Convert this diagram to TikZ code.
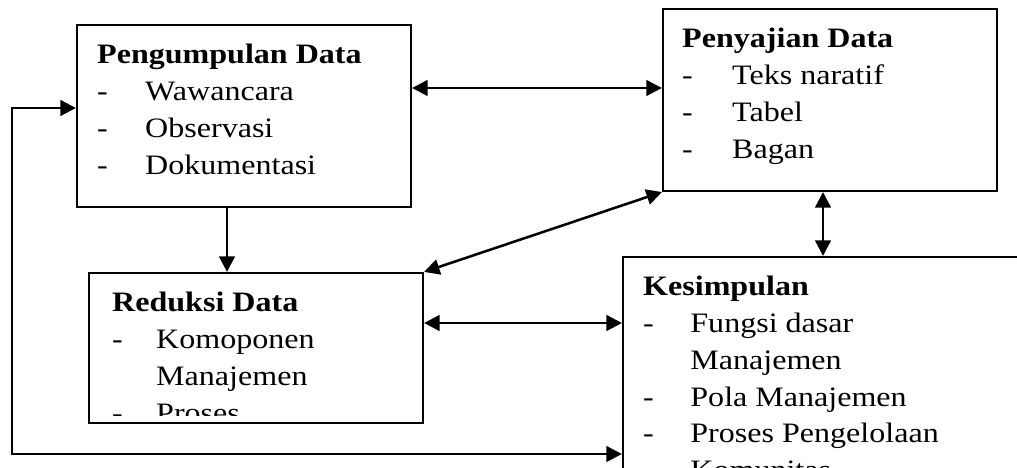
\documentclass[tikz,border=0pt]{standalone}
\usepackage{fontspec}
\setmainfont{Liberation Serif}[FakeStretch=1.14]
\usetikzlibrary{arrows.meta}

\tikzset{
  databox/.style={draw, line width=1.5pt, minimum width=8.35cm, inner sep=0pt},
  datatext/.style={anchor=base west, inner sep=0pt, font=\fontsize{20}{26.1}\selectfont},
  link/.style={line width=1.8pt, >={Triangle[length=11pt,width=11pt]}}
}

\begin{document}
\begin{tikzpicture}
			\clip (0,0) rectangle (25.425,11.7);
			
			% kotak
			\node[databox, minimum height=4.55cm] (pengumpulan) at (6.1,8.8) {};
			\node[databox, minimum height=4.55cm] (penyajian) at (20.75,9.2) {};
			\node[databox, minimum height=3.75cm] (reduksi) at (6.4,3.0) {};
			\node[databox, minimum width=10.5cm, minimum height=6.5cm] (kesimpulan) at (20.825,2.025) {};
			
			% isi kotak
			\node[datatext] (pengumpulan-isi) at ([xshift=0.525cm,yshift=-1cm]pengumpulan.north west){%
				\begin{tabular}[t]{@{}p{1.2cm}@{}l@{}}
					\multicolumn{2}{@{}l@{}}{\textbf{Pengumpulan Data}}\\
					- & Wawancara\\
					- & Observasi\\
					- & Dokumentasi
			\end{tabular}};
			\node[datatext] (penyajian-isi) at ([xshift=0.5cm,yshift=-1cm]penyajian.north west){%
				\begin{tabular}[t]{@{}p{1.25cm}@{}l@{}}
					\multicolumn{2}{@{}l@{}}{\textbf{Penyajian Data}}\\
					- & Teks naratif\\
					- & Tabel\\
					- & Bagan
			\end{tabular}};
			\begin{scope}
				\clip (reduksi.north west) rectangle ([yshift=0.225cm]reduksi.south east);
				\node[datatext] (reduksi-isi) at ([xshift=0.6cm,yshift=-1cm]reduksi.north west){%
					\begin{tabular}[t]{@{}p{1.1cm}@{}l@{}}
						\multicolumn{2}{@{}l@{}}{\textbf{Reduksi Data}}\\
						- & Komoponen\\
						& Manajemen\\
						- & Proses
				\end{tabular}};
			\end{scope}
			\node[datatext] (kesimpulan-isi) at ([xshift=0.525cm,yshift=-1cm]kesimpulan.north west){%
				\begin{tabular}[t]{@{}p{1.18cm}@{}l@{}}
					\multicolumn{2}{@{}l@{}}{\textbf{Kesimpulan}}\\
					- & Fungsi dasar\\
					& Manajemen\\
					- & Pola Manajemen\\
					- & Proses Pengelolaan\\
					- & Komunitas
			\end{tabular}};
			
			% panah
			\draw[link,<->] ([yshift=0.7cm]pengumpulan.east) -- ([yshift=0.7cm]pengumpulan.east -| penyajian.west);
			\draw[link,->] ([xshift=-0.425cm]pengumpulan.south) -- ([xshift=-0.425cm]pengumpulan.south |- reduksi.north);
			\draw[link,<->] (reduksi.north east) -- (penyajian.south west);
			\draw[link,<->] ([xshift=-0.175cm]penyajian.south) -- ([xshift=-0.175cm]penyajian.south |- kesimpulan.north);
			\draw[link,<->] ([yshift=0.625cm]reduksi.east) -- ([yshift=0.625cm]reduksi.east -| kesimpulan.west);
			
			\coordinate (balik) at (0.3,0.35);
			\draw[link,<->] ([yshift=0.2cm]pengumpulan.west) -| (balik) -- (balik -| kesimpulan.west);
		\end{tikzpicture}
\end{document}
